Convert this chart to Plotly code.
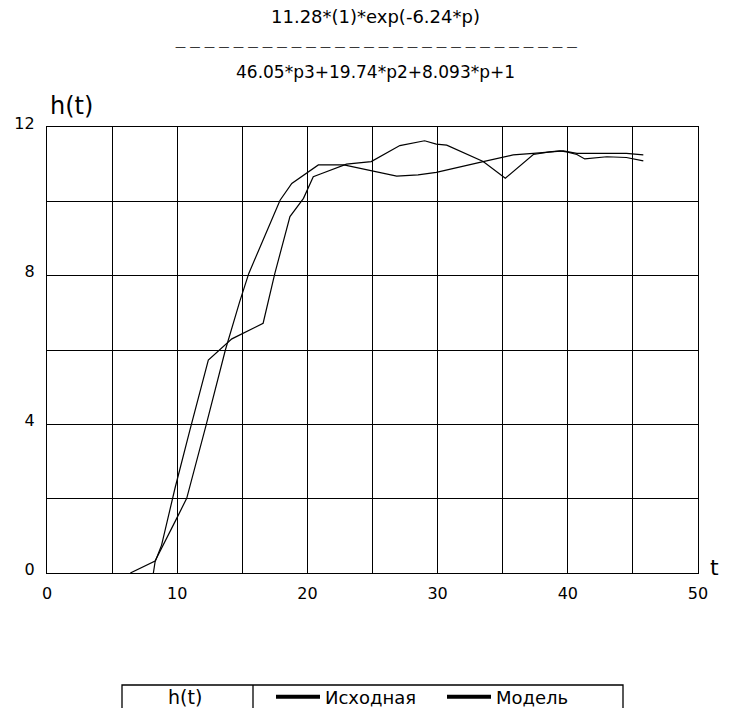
import plotly.graph_objects as go

# ---- data ----
t_model = [6.4, 8.3, 9.96, 10.73, 12.2, 13.7, 14.8, 15.5, 16.4, 17.9, 18.8, 19.94, 20.84,
           22.8, 24.9, 26.86, 28.5, 29.9, 33.5, 35.05, 35.8, 37.35, 38.5, 39.65, 40.7,
           42.0, 44.5, 45.8]
h_model = [0.0, 0.32, 1.47, 2.01, 3.95, 6.0, 7.3, 8.06, 8.8, 10.03, 10.48, 10.75, 10.98,
           10.98, 10.82, 10.68, 10.71, 10.78, 11.07, 11.18, 11.25, 11.29, 11.33, 11.36, 11.29,
           11.29, 11.29, 11.25]

t_data = [8.17, 8.3, 8.8, 9.83, 10.98, 12.39, 14.2, 16.6, 17.5, 18.66, 19.7, 20.45, 21.1,
          22.5, 23.0, 24.9, 27.1, 29.0, 29.9, 30.7, 33.5, 35.2, 37.35, 38.6, 39.4, 39.9,
          40.7, 41.3, 43.0, 44.5, 45.8]
h_data = [0.0, 0.3, 0.75, 2.28, 3.85, 5.73, 6.3, 6.72, 8.06, 9.59, 10.08, 10.66, 10.75,
          10.93, 11.0, 11.07, 11.5, 11.63, 11.54, 11.51, 11.07, 10.62, 11.26, 11.33, 11.36, 11.33,
          11.26, 11.14, 11.2, 11.18, 11.09]

series_names = ["Исходная", "Модель"]
x_ticks = [0, 10, 20, 30, 40, 50]
y_ticks = [0, 4, 8, 12]
title_num = "11.28*(1)*exp(-6.24*p)"
title_den = "46.05*p3+19.74*p2+8.093*p+1"
y_label = "h(t)"
x_label = "t"
legend_title = "h(t)"

FONT = "DejaVu Sans"
W, H = 732, 708
L, R, T, B = 47, 698, 127, 573

def px(xp):
    return (xp - L) / (R - L)

def py(yp):
    return (B - yp) / (B - T)

fig = go.Figure()
fig.add_trace(go.Scatter(x=t_data, y=h_data, mode="lines", name=series_names[0],
                         line=dict(color="black", width=1.2), showlegend=False))
fig.add_trace(go.Scatter(x=t_model, y=h_model, mode="lines", name=series_names[1],
                         line=dict(color="black", width=1.2), showlegend=False))
# legend keys (thick lines as in reference)
for nm in series_names:
    fig.add_trace(go.Scatter(x=[None], y=[None], mode="lines", name=nm,
                             line=dict(color="black", width=4), showlegend=True))

fig.update_layout(
    width=W, height=H,
    margin=dict(l=L, r=W - R, t=T, b=H - B, pad=0, autoexpand=False),
    paper_bgcolor="white", plot_bgcolor="white",
    font=dict(family=FONT, size=16, color="black"),
    showlegend=True,
    legend=dict(orientation="h", x=px(271), xanchor="left", y=py(697), yanchor="middle",
                itemwidth=44, entrywidth=112, entrywidthmode="pixels",
                font=dict(family=FONT, size=18, color="black"),
                bgcolor="rgba(0,0,0,0)", borderwidth=0, itemclick=False),
)
fig.update_xaxes(range=[0, 50], tickvals=x_ticks, ticktext=[str(v) for v in x_ticks],
                 showgrid=True, gridcolor="black", gridwidth=1.3,
                 minor=dict(dtick=5, showgrid=True, gridcolor="black", gridwidth=1.3),
                 showline=True, linecolor="black", linewidth=1.3, mirror=True,
                 ticks="", zeroline=False, ticklabelstandoff=6,
                 tickfont=dict(family=FONT, size=16))
fig.update_yaxes(range=[0, 12], tickvals=y_ticks, ticktext=[str(v) for v in y_ticks],
                 showgrid=True, gridcolor="black", gridwidth=1.3,
                 minor=dict(dtick=2, showgrid=True, gridcolor="black", gridwidth=1.3),
                 showline=True, linecolor="black", linewidth=1.3, mirror=True,
                 ticks="", zeroline=False, ticklabelstandoff=8, ticklabelshift=-4,
                 tickfont=dict(family=FONT, size=16))

ann = [
    dict(text=title_num, x=px(375.5), y=py(17), size=18),
    dict(text=" ".join(["—"] * 28), x=px(375.5), y=py(46), size=11),
    dict(text=title_den, x=px(375.5), y=py(72), size=17),
    dict(text=y_label, x=px(71), y=py(106), size=24),
    dict(text=x_label, x=px(714), y=py(567), size=22),
    dict(text=legend_title, x=px(185), y=py(697), size=19),
]
for a in ann:
    fig.add_annotation(xref="paper", yref="paper", showarrow=False,
                       xanchor="center", yanchor="middle",
                       font=dict(family=FONT, color="black", size=a["size"]),
                       text=a["text"], x=a["x"], y=a["y"])

# legend frame
fig.add_shape(type="rect", xref="paper", yref="paper", x0=px(122), x1=px(623),
              y0=py(685), y1=py(730), line=dict(color="black", width=1.3))
fig.add_shape(type="line", xref="paper", yref="paper", x0=px(253), x1=px(253),
              y0=py(685), y1=py(730), line=dict(color="black", width=1.3))

fig.write_html("out.html", config={"displayModeBar": False},
               post_script="document.body.style.margin='0';document.body.style.overflow='hidden';")
